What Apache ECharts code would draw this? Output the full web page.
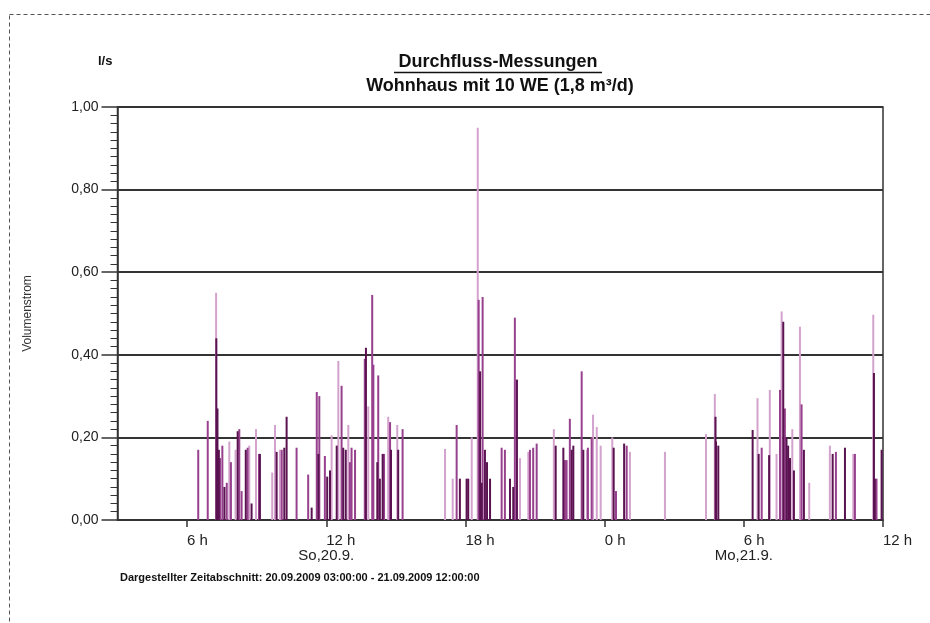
<!DOCTYPE html>
<html>
<head>
<meta charset="utf-8">
<script src="https://cdn.jsdelivr.net/npm/echarts@6/dist/echarts.min.js"></script>
<style>
html,body{margin:0;padding:0;background:#fff;}
#chart{width:930px;height:623px;}
</style>
</head>
<body>
<div id="chart"></div>
<script>
// Time in hours since Sun 20.09.2009 00:00 ; flow in l/s
const lightHours = [7.25,7.82,8.09,8.68,8.97,9.67,9.79,10.00,12.23,12.52,12.95,13.81,14.67,15.06,17.12,17.45,18.27,18.53,20.35,20.71,21.81,23.24,23.50,23.66,23.83,24.33,25.09,26.60,28.37,28.75,30.59,31.12,31.41,31.63,32.09,32.42,32.82,33.71,34.72,35.58];
const lightFlow  = [0.55,0.19,0.17,0.18,0.22,0.115,0.23,0.17,0.205,0.385,0.23,0.275,0.25,0.23,0.172,0.10,0.20,0.95,0.15,0.165,0.22,0.17,0.255,0.225,0.18,0.20,0.165,0.165,0.208,0.305,0.295,0.315,0.16,0.505,0.22,0.468,0.09,0.18,0.16,0.497];

const mediumHours = [6.48,6.89,7.42,7.52,7.71,7.89,8.25,8.35,8.61,9.10,10.08,10.72,11.22,11.59,11.70,11.94,12.66,13.02,13.09,13.24,13.66,13.98,14.03,14.24,14.49,14.75,15.29,17.62,18.57,18.74,19.56,19.70,20.13,20.78,20.92,21.07,22.29,22.36,22.50,23.01,23.28,23.44,24.49,24.95,30.77,31.56,31.77,32.49,33.97,34.79,35.72];
const mediumFlow  = [0.17,0.24,0.15,0.18,0.09,0.14,0.22,0.07,0.175,0.16,0.17,0.175,0.11,0.31,0.30,0.155,0.325,0.14,0.175,0.17,0.39,0.545,0.376,0.35,0.16,0.237,0.22,0.23,0.533,0.54,0.175,0.17,0.49,0.17,0.175,0.185,0.145,0.145,0.245,0.36,0.175,0.20,0.07,0.18,0.175,0.315,0.27,0.28,0.165,0.16,0.10];

const darkHours = [7.26,7.31,7.37,7.61,8.18,8.53,8.78,9.14,9.86,10.19,10.29,11.37,11.66,12.04,12.16,12.45,12.73,12.84,13.71,14.20,14.31,14.43,14.79,15.10,17.76,18.05,18.12,18.63,18.70,18.84,18.93,19.06,19.92,20.06,20.22,21.89,22.22,22.58,22.65,23.08,24.39,24.84,28.78,28.80,28.90,30.38,30.64,31.09,31.70,31.84,31.91,31.99,32.16,32.59,33.83,34.36,35.61,35.65,35.94];
const darkFlow  = [0.44,0.27,0.17,0.08,0.215,0.17,0.04,0.16,0.165,0.175,0.25,0.03,0.16,0.105,0.12,0.18,0.175,0.17,0.417,0.14,0.10,0.16,0.17,0.17,0.10,0.10,0.10,0.36,0.09,0.17,0.14,0.10,0.10,0.08,0.34,0.18,0.175,0.17,0.18,0.17,0.175,0.185,0.25,0.19,0.18,0.218,0.16,0.157,0.48,0.20,0.18,0.15,0.12,0.17,0.16,0.175,0.356,0.10,0.17];

const xStart = 3, xEnd = 36;
const xTickHours = [6,12,18,24,30,36];
const dayLabelHours = [12,30];
const dayLabelTexts = ['So,20.9.','Mo,21.9.'];
const yTicks = {min:0, max:1, step:0.2};

const titleText = 'Durchfluss-Messungen';
const subtitleText = 'Wohnhaus mit 10 WE (1,8 m³/d)';
const unitText = 'l/s';
const yName = 'Volumenstrom';
const footerText = 'Dargestellter Zeitabschnitt: 20.09.2009 03:00:00 - 21.09.2009 12:00:00';

function pairs(h, v){ return h.map((t,i)=>[t, v[i]]); }

const chart = echarts.init(document.getElementById('chart'), null, {renderer:'canvas'});
const FONT = 'Liberation Sans, Arial, sans-serif';

function spikeSeries(name, h, v, color){
  return {
    name, type:'bar', data: pairs(h,v), barWidth: 2, barGap:'-100%',
    itemStyle:{color}, silent:true, animation:false, xAxisIndex:0, yAxisIndex:0
  };
}

const option = {
  backgroundColor:'#fff',
  animation:false,
  title:[
    {text:titleText, left:498, top:53, textAlign:'center', padding:0,
     textStyle:{fontFamily:FONT, fontSize:18, fontWeight:'bold', color:'#111'}},
    {text:subtitleText, left:500, top:77, textAlign:'center', padding:0,
     textStyle:{fontFamily:FONT, fontSize:18, fontWeight:'bold', color:'#111'}}
  ],
  grid:{left:117.5, right:47, top:107, bottom:103, show:true, borderColor:'#333', borderWidth:1.5, containLabel:false},
  xAxis:[
    {type:'value', min:xStart, max:xEnd,
     axisLine:{show:true, lineStyle:{color:'#333', width:1.5}},
     splitLine:{show:false},
     axisTick:{show:true, customValues:xTickHours, length:7, lineStyle:{color:'#333', width:1.5}},
     axisLabel:{customValues:xTickHours, formatter:v=>(v%24)+' h', align:'left', margin:13,
       fontFamily:FONT, fontSize:15, color:'#222'}},
    {type:'value', min:xStart, max:xEnd, position:'bottom',
     axisLine:{show:false}, splitLine:{show:false}, axisTick:{show:false},
     axisLabel:{customValues:dayLabelHours, formatter:v=>dayLabelTexts[dayLabelHours.indexOf(v)], align:'center', margin:28,
       fontFamily:FONT, fontSize:15, color:'#222'}}
  ],
  yAxis:[{
    type:'value', min:yTicks.min, max:yTicks.max, interval:yTicks.step,
    name:yName, nameLocation:'middle', nameGap:84, nameRotate:90,
    nameTextStyle:{fontFamily:FONT, fontSize:12, color:'#333'},
    axisLine:{show:true, lineStyle:{color:'#333', width:1.5}},
    axisTick:{show:true, length:16, lineStyle:{color:'#333', width:1.5}},
    minorTick:{show:true, splitNumber:10, length:7, lineStyle:{color:'#333', width:1}},
    splitLine:{show:true, lineStyle:{color:'#333', width:1.8}},
    axisLabel:{formatter:v=>v.toFixed(2).replace('.',','), margin:19,
      fontFamily:FONT, fontSize:14, color:'#222'}
  }],
  series:[
    spikeSeries('light', lightHours, lightFlow, '#d3a2cd'),
    spikeSeries('medium', mediumHours, mediumFlow, '#97418e'),
    spikeSeries('dark', darkHours, darkFlow, '#5a1250')
  ],
  graphic:[
    {type:'rect', silent:true, z:-1, shape:{x:9.5, y:14.5, width:1200, height:1200},
     style:{fill:null, stroke:'#555', lineWidth:1, lineDash:[4,3]}},
    {type:'line', silent:true, shape:{x1:394, y1:72.5, x2:602, y2:72.5},
     style:{stroke:'#111', lineWidth:1.5}},
    {type:'text', silent:true, x:98, y:55,
     style:{text:unitText, font:'bold 13px '+FONT, fill:'#111'}},
    {type:'text', silent:true, x:120, y:572,
     style:{text:footerText, font:'bold 11px '+FONT, fill:'#111'}}
  ]
};
chart.setOption(option);
</script>
</body>
</html>
